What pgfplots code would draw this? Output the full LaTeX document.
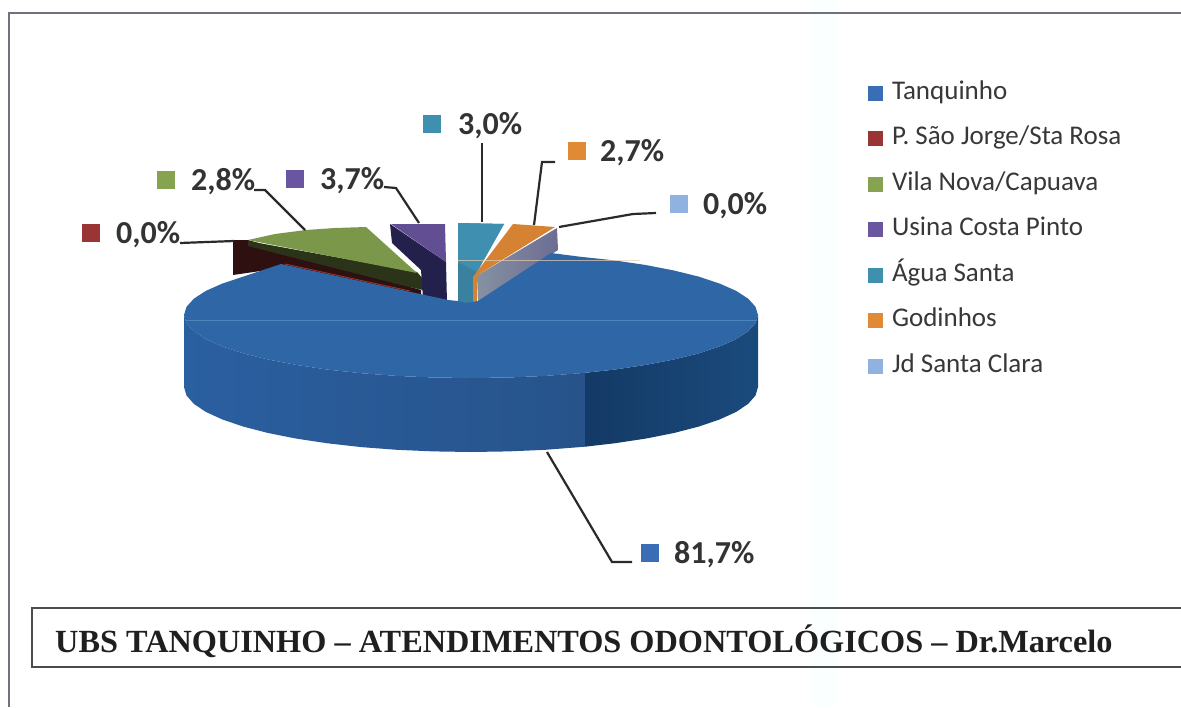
\documentclass[border=0pt]{standalone}
\usepackage{pgfplots}
\pgfplotsset{compat=1.18}
\usepackage{fontspec}
\setmainfont{Carlito}
\newfontfamily\titlefont{Liberation Serif}
\definecolor{cT}{HTML}{3B6DB5}
\definecolor{cP}{HTML}{9A3535}
\definecolor{cV}{HTML}{86A44F}
\definecolor{cU}{HTML}{6A55A0}
\definecolor{cA}{HTML}{3F8FB0}
\definecolor{cG}{HTML}{E08A35}
\definecolor{cJ}{HTML}{8FB2E0}
\definecolor{lead}{HTML}{2A2A2A}
\definecolor{pieTop}{HTML}{2F66A6}
\begin{document}
\begin{tikzpicture}
\begin{axis}[
  width=1181pt, height=707pt, scale only axis,
  xmin=0, xmax=1181, ymin=0, ymax=707, y dir=reverse,
  hide axis, clip=true,
  legend style={at={(axis cs:868,81)}, anchor=north west, draw=none, fill=none,
    font=\fontsize{27}{27}\selectfont, text=black!78,
    row sep=21.5pt, inner sep=0pt, outer sep=0pt,
    /tikz/every odd column/.append style={column sep=9pt},
    nodes={inner sep=0pt, anchor=base west, text height=18pt, text depth=6pt}},
  legend cell align=left,
  legend image code/.code={\path[#1,fill,draw=none] (0pt,-1.5pt) rectangle (15pt,13.5pt);},
]
% page ground and scan band
\addplot[fill=white, draw=none, forget plot] coordinates {(0,0)(1181,0)(1181,707)(0,707)} --cycle;
\addplot[fill=blue!2!cyan!2!white, draw=none, forget plot] coordinates {(812,0)(838,0)(838,707)(812,707)} --cycle;
% frame
\addplot[draw=black!45!blue!12!gray, line width=1.6pt, forget plot] coordinates {(9,707)(9,13)(1181,13)};
\addplot[draw=black!70, line width=1.6pt, forget plot] coordinates {(1181,608)(32,608)(32,667)(1181,667)};
% --- back slices ---
\addplot[fill=black!65!cP!85!black, draw=none, forget plot] coordinates {(233,240)(248,240)(421,290)(421,298)(281,268)(233,275)} --cycle;
\addplot[fill=black!68!cV, draw=none, forget plot] coordinates {(248,241)(417,272)(423,279)(423,290)(405,286)(248,246)} --cycle;
\addplot[fill=cV!92!black, draw=none, forget plot] coordinates {(248,240)(275,234)(306,230)(335,228)(366,227)(417,273)} --cycle;
\addplot[fill={rgb,255:red,35;green,33;blue,76}, draw=none, forget plot] coordinates {(390,224)(446,262)(447,303)(423,298)(421,270)(392,243)} --cycle;
\addplot[fill=cU!92!black, draw=none, forget plot] coordinates {(391,224)(445,224)(446,262)} --cycle;
\addplot[fill=cA!90!black, draw=none, forget plot] coordinates {(458,223)(504,224)(477,272)(473,304)(458,304)} --cycle;
\addplot[fill=cA, draw=none, forget plot] coordinates {(458,223)(504,224)(477,272)(458,262)} --cycle;
\addplot[left color=cJ!35!gray, right color=gray!85!blue, draw=none, forget plot] coordinates {(557,228)(558,250)(478,303)(478,275)} --cycle;
\addplot[fill=cG!95!black, draw=none, forget plot] coordinates {(513,224)(555,227)(478,275)(477,304)(473,304)(473,277)} --cycle;
% --- Tanquinho side ---
\addplot[left color={rgb,255:red,42;green,95;blue,160}, right color={rgb,255:red,39;green,83;blue,138}, draw=none, forget plot] coordinates {
 (184,315)(186.5,323.2)(193.8,331.3)(205.8,339.1)(222.5,346.5)(243.3,353.4)(268.1,359.5)(296.3,364.9)(327.5,369.6)(361.2,373.2)(396.7,375.9)(433.5,377.5)(471,378)(508.5,377.5)(545.3,375.9)(585,372.8)
 (585,446.7)(545.3,449.8)(508.5,451.4)(471,452)(433.5,451.4)(396.7,449.8)(361.2,447.1)(327.5,443.3)(296.3,438.6)(268.1,433)(243.3,426.6)(222.5,419.5)(205.8,411.9)(193.8,403.8)(186.5,395.5)(184,387)} --cycle;
\addplot[left color={rgb,255:red,20;green,58;blue,102}, right color={rgb,255:red,26;green,74;blue,124}, draw=none, forget plot] coordinates {
 (585,372.8)(614.5,369.6)(645.7,364.9)(673.9,359.5)(698.7,353.4)(719.5,346.5)(736.2,339.1)(748.2,331.3)(755.5,323.2)(758,315)
 (758,387)(755.5,395.5)(748.2,403.8)(736.2,411.9)(719.5,419.5)(698.7,426.6)(673.9,433)(645.7,438.6)(614.5,443.3)(585,446.7)} --cycle;
% --- Tanquinho top ---
\addplot[fill=pieTop, draw=none, forget plot] coordinates {
 (551,253)(580.8,256.8)(614.5,260.4)(645.7,265)(673.9,270.5)(698.7,276.6)(719.5,283.5)(736.2,290.9)(748.2,298.7)(755.5,306.8)(758,315)
 (755.5,323.2)(748.2,331.3)(736.2,339.1)(719.5,346.5)(698.7,353.4)(673.9,359.5)(645.7,364.9)(614.5,369.6)(580.8,373.2)(545.3,375.9)(508.5,377.5)(471,378)
 (433.5,377.5)(396.7,375.9)(361.2,373.2)(327.5,369.6)(296.3,364.9)(268.1,359.5)(243.3,353.4)(222.5,346.5)(205.8,339.1)(193.8,331.3)(186.5,323.2)(184,315)
 (186.5,306.8)(193.8,298.7)(205.8,290.9)(222.5,283.5)(243.3,276.6)(281,264)(448,300)(458,301)(466,303)(478,301)} --cycle;
\addplot[draw=cP, line width=0.9pt, forget plot] coordinates {(285,264)(410,291)};
% scan lines
\addplot[draw={rgb,255:red,76;green,132;blue,188}, line width=0.8pt, forget plot] coordinates {(186,320)(757,320)};
\addplot[draw=orange!25!white!80!gray, line width=0.8pt, opacity=.7, forget plot] coordinates {(458,260)(640,260)};
% leaders
\addplot[draw=lead, line width=2.2pt, forget plot] coordinates {(547,452)(612,562)(632,562)};
\addplot[draw=lead, line width=2.2pt, forget plot] coordinates {(482,143)(482,222)};
\addplot[draw=lead, line width=2.2pt, forget plot] coordinates {(555,162)(542,162)(534,225)};
\addplot[draw=lead, line width=2.2pt, forget plot] coordinates {(656,213)(633,214)(559,227)};
\addplot[draw=lead, line width=2.2pt, forget plot] coordinates {(384,187)(396,188)(419,223)};
\addplot[draw=lead, line width=2.2pt, forget plot] coordinates {(254,190)(265,190)(305,230)};
\addplot[draw=lead, line width=2.2pt, forget plot] coordinates {(180,243)(234,241)};
% value-label keys
\addplot[only marks, mark=square*, mark size=8.5pt, mark options={draw=cT, fill=cT}, forget plot] coordinates {(650,553)};
\addplot[only marks, mark=square*, mark size=8.5pt, mark options={draw=cP, fill=cP}, forget plot] coordinates {(91,233)};
\addplot[only marks, mark=square*, mark size=8.5pt, mark options={draw=cV, fill=cV}, forget plot] coordinates {(166,180)};
\addplot[only marks, mark=square*, mark size=8.5pt, mark options={draw=cU, fill=cU}, forget plot] coordinates {(295,179)};
\addplot[only marks, mark=square*, mark size=8.5pt, mark options={draw=cA, fill=cA}, forget plot] coordinates {(432,124)};
\addplot[only marks, mark=square*, mark size=8.5pt, mark options={draw=cG, fill=cG}, forget plot] coordinates {(577,151)};
\addplot[only marks, mark=square*, mark size=8.5pt, mark options={draw=cJ, fill=cJ}, forget plot] coordinates {(679,204)};
% legend
\addlegendimage{fill=cT}\addlegendentry{Tanquinho}
\addlegendimage{fill=cP}\addlegendentry{P. São Jorge/Sta Rosa}
\addlegendimage{fill=cV}\addlegendentry{Vila Nova/Capuava}
\addlegendimage{fill=cU}\addlegendentry{Usina Costa Pinto}
\addlegendimage{fill=cA}\addlegendentry{Água Santa}
\addlegendimage{fill=cG}\addlegendentry{Godinhos}
\addlegendimage{fill=cJ}\addlegendentry{Jd Santa Clara}
% value labels
\tikzset{vl/.style={anchor=west, inner sep=0pt, text=black!80, font=\fontsize{32}{32}\selectfont\bfseries}}
\node[vl] at (axis cs:674,555) {81,7\%};
\node[vl] at (axis cs:116,235) {0,0\%};
\node[vl] at (axis cs:191,182) {2,8\%};
\node[vl] at (axis cs:320,181) {3,7\%};
\node[vl] at (axis cs:458,126) {3,0\%};
\node[vl] at (axis cs:600,153) {2,7\%};
\node[vl] at (axis cs:703,206) {0,0\%};
\node[anchor=west, inner sep=0pt, text=black!88, font=\titlefont\fontsize{32.3}{32.3}\selectfont\bfseries] at (axis cs:55,641) {UBS TANQUINHO – ATENDIMENTOS ODONTOLÓGICOS – Dr.Marcelo};
\end{axis}
\end{tikzpicture}
\end{document}
